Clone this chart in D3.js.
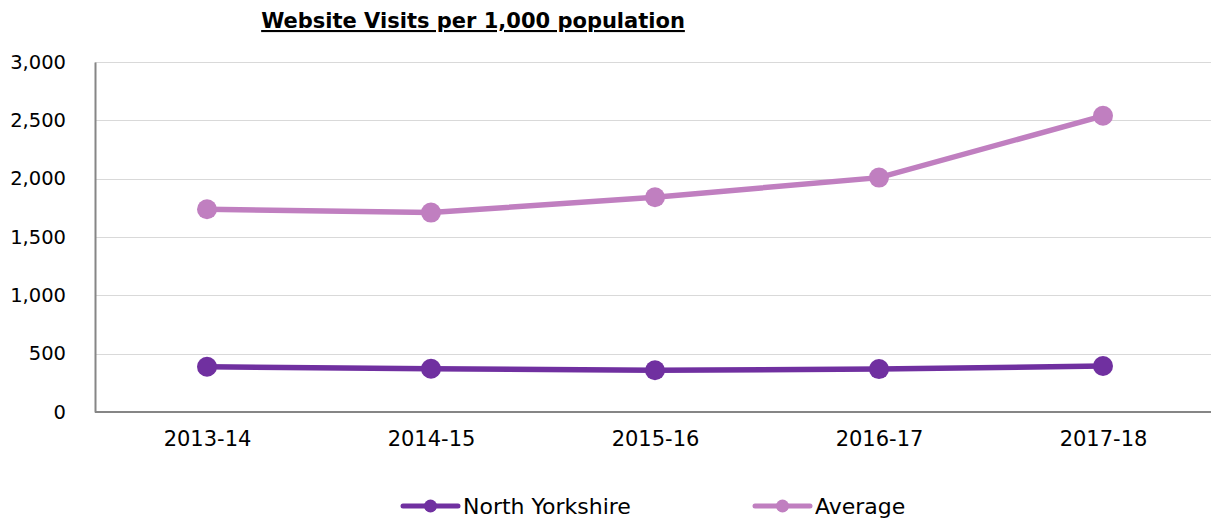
<!DOCTYPE html>
<html>
<head>
<meta charset="utf-8">
<script src="https://cdn.jsdelivr.net/npm/d3@7"></script>
<style>
  html, body { margin: 0; padding: 0; background: #fff; }
  svg { display: block; font-family: 'DejaVu Sans', Verdana, sans-serif; }
</style>
</head>
<body>
<div id="chart"></div>
<script>
const years = ['2013-14', '2014-15', '2015-16', '2016-17', '2017-18'];
const northYorkshire = [388, 371, 358, 368, 394];
const average = [1738, 1709, 1841, 2009, 2539];
const yTicks = [0, 500, 1000, 1500, 2000, 2500, 3000];

const series = [
    { name: 'North Yorkshire', values: northYorkshire, color: '#7030a0' },
    { name: 'Average', values: average, color: '#c07fc0' }
];

const width = 1211;
const height = 521;
const margin = { top: 62, right: -4, bottom: 109, left: 95 };

const svg = d3.select('#chart')
    .append('svg')
    .attr('width', width)
    .attr('height', height);

const x = d3.scalePoint()
    .domain(years)
    .range([margin.left, width - margin.right])
    .padding(0.5);

const y = d3.scaleLinear()
    .domain([0, 3000])
    .range([height - margin.bottom, margin.top]);

// title
svg.append('text')
    .attr('x', 473)
    .attr('y', 28)
    .attr('text-anchor', 'middle')
    .style('font-size', '21px')
    .style('font-weight', 'bold')
    .style('text-decoration', 'underline')
    .style('fill', '#000')
    .text('Website Visits per 1,000 population');

// gridlines
svg.append('g')
    .selectAll('line')
    .data(yTicks.filter(d => d > 0))
    .enter()
    .append('line')
    .attr('x1', margin.left)
    .attr('x2', width)
    .attr('y1', d => Math.round(y(d)) + 0.5)
    .attr('y2', d => Math.round(y(d)) + 0.5)
    .attr('stroke', '#d9d9d9')
    .attr('stroke-width', 1);

// y axis
const yAxis = svg.append('g')
    .attr('transform', `translate(${margin.left}, 0)`)
    .call(d3.axisLeft(y)
        .tickValues(yTicks)
        .tickSize(0)
        .tickPadding(29)
        .tickFormat(d3.format(',')));
yAxis.select('.domain').attr('stroke', '#868686').attr('stroke-width', 2);
yAxis.selectAll('text')
    .style('font-size', '19.5px')
    .style('fill', '#000')
    .style('font-family', "'DejaVu Sans', Verdana, sans-serif");

// x axis
const xAxis = svg.append('g')
    .attr('transform', `translate(0, ${y(0)})`)
    .call(d3.axisBottom(x).tickSize(0).tickPadding(19));
xAxis.select('.domain')
    .attr('d', `M${margin.left},0H${width}`)
    .attr('stroke', '#868686')
    .attr('stroke-width', 2);
xAxis.selectAll('text')
    .style('font-size', '21px')
    .style('fill', '#000')
    .style('font-family', "'DejaVu Sans', Verdana, sans-serif");

const line = d3.line()
    .x((d, i) => x(years[i]))
    .y(d => y(d));

series.forEach(s => {
    const g = svg.append('g');
    g.append('path')
        .datum(s.values)
        .attr('fill', 'none')
        .attr('stroke', s.color)
        .attr('stroke-width', 5.5)
        .attr('d', line);
    g.selectAll('circle')
        .data(s.values)
        .enter()
        .append('circle')
        .attr('cx', (d, i) => x(years[i]))
        .attr('cy', d => y(d))
        .attr('r', 10)
        .attr('fill', s.color);
});

// legend
const legendPos = [403, 755];
const legend = svg.append('g')
    .selectAll('g')
    .data(series)
    .enter()
    .append('g')
    .attr('transform', (d, i) => `translate(${legendPos[i]}, 506)`);

legend.append('line')
    .attr('x1', 0)
    .attr('x2', 55)
    .attr('stroke', d => d.color)
    .attr('stroke-width', 5)
    .attr('stroke-linecap', 'round');
legend.append('circle')
    .attr('cx', 27.5)
    .attr('r', 6.5)
    .attr('fill', d => d.color);
legend.append('text')
    .attr('x', 60)
    .attr('dy', '0.35em')
    .style('font-size', '22px')
    .style('fill', '#000')
    .text(d => d.name);
</script>
</body>
</html>
